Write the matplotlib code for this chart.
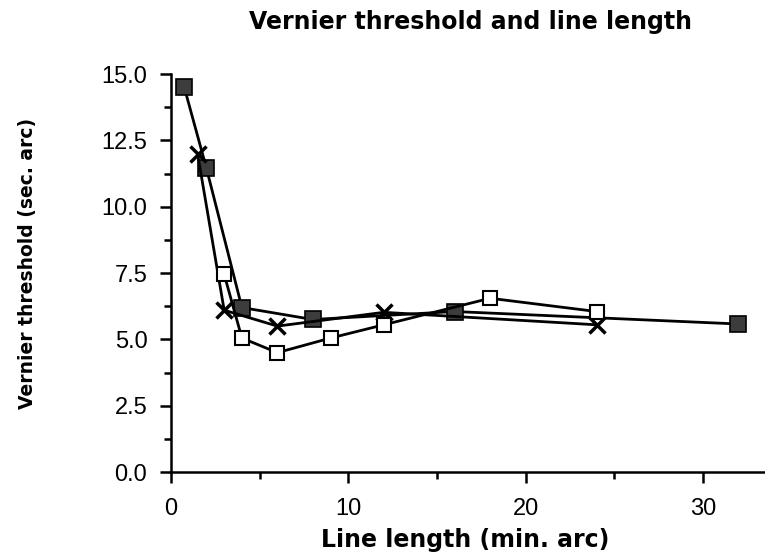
import matplotlib.pyplot as plt

# filled squares
x_filled = [0.75, 2, 4, 8, 16, 32]
y_filled = [14.5, 11.45, 6.2, 5.75, 6.05, 5.58]

# crosses
x_cross = [1.5, 3, 6, 12, 24]
y_cross = [12.0, 6.1, 5.5, 6.02, 5.55]

# open squares
x_open = [3, 4, 6, 9, 12, 18, 24]
y_open = [7.45, 5.05, 4.5, 5.05, 5.55, 6.55, 6.05]

xticks = [0, 10, 20, 30]
xtick_labels = ['0', '10', '20', '30']
yticks = [0, 2.5, 5, 7.5, 10, 12.5, 15]

plt.rcParams['font.family'] = ['Liberation Sans', 'DejaVu Sans']

fig = plt.figure(figsize=(7.65, 5.55), dpi=100)
ax = fig.add_axes([0.2235, 0.1495, 0.7765, 0.717])

ax.plot(x_filled, y_filled, color='black', linewidth=2, marker='s', markersize=11,
        markerfacecolor='#3c3c3c', markeredgecolor='black', markeredgewidth=1.2, zorder=3)
ax.plot(x_cross, y_cross, color='black', linewidth=2, marker='x', markersize=11,
        markeredgewidth=2.5, zorder=4)
ax.plot(x_open, y_open, color='black', linewidth=2, marker='s', markersize=10,
        markerfacecolor='white', markeredgecolor='black', markeredgewidth=1.5, zorder=5)

ax.set_xlim(0, 33.5)
ax.set_ylim(0, 15)
ax.set_xticks(xticks)
ax.set_xticklabels(xtick_labels)
ax.set_xticks([5, 15, 25], minor=True)
ax.set_yticks(yticks)
ax.set_yticklabels([f'{v:.1f}' for v in yticks])
ax.set_yticks([1.25, 3.75, 6.25, 8.75, 11.25, 13.75], minor=True)

for s in ['top', 'right']:
    ax.spines[s].set_visible(False)
ax.spines['left'].set_linewidth(1.8)
ax.spines['bottom'].set_linewidth(1.8)
ax.tick_params(axis='both', which='major', direction='out', length=8, width=1.8,
               labelsize=17)
ax.tick_params(axis='x', which='major', pad=11)
ax.tick_params(axis='y', which='major', pad=9)
ax.tick_params(axis='both', which='minor', direction='out', length=5, width=1.8)

lab = dict(family='DejaVu Sans', fontweight='bold')
ax.set_xlabel('Line length (min. arc)', fontsize=17, **lab)
ax.xaxis.set_label_coords(0.495, -0.14)
ax.set_ylabel('Vernier threshold (sec. arc)', fontsize=13.5, **lab)
ax.yaxis.set_label_coords(-0.226, 0.523)
fig.text(0.615, 0.96, 'Vernier threshold and line length', fontsize=17,
         ha='center', va='center', **lab)

fig.savefig('out.png', dpi=100)
